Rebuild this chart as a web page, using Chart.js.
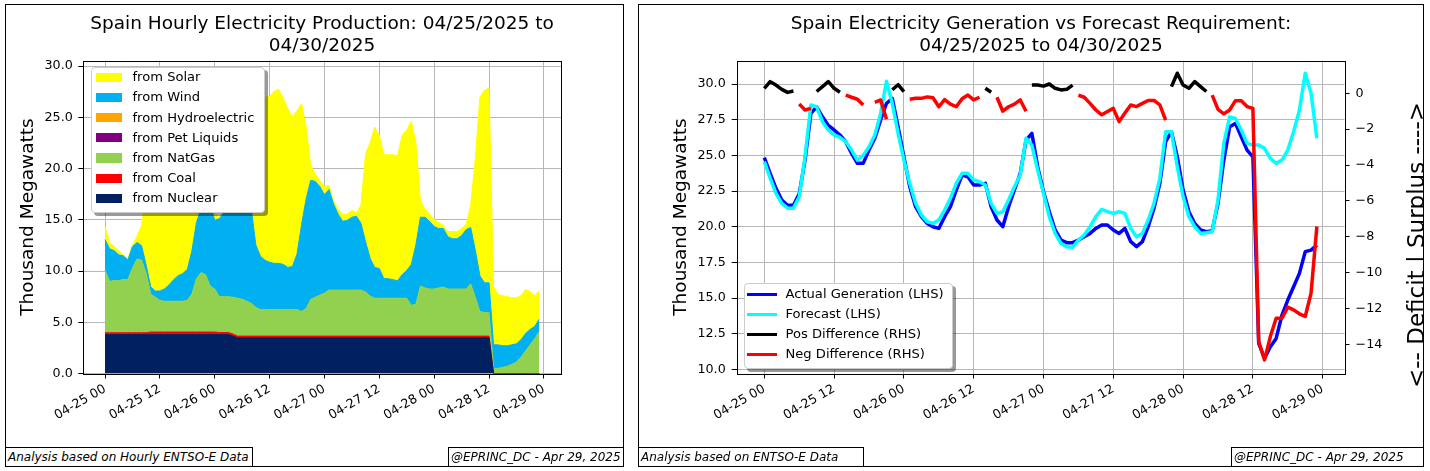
<!DOCTYPE html>
<html>
<head>
<meta charset="utf-8">
<script src="https://cdn.jsdelivr.net/npm/chart.js@4.4.1/dist/chart.umd.min.js"></script>
<style>
body { margin: 0; background: #fff; font-family: 'DejaVu Sans', sans-serif; color: #000; }
#page { position: relative; width: 1430px; height: 471px; overflow: hidden; background: #fff; }
canvas { position: absolute; top: 0; }
.panel { position: absolute; top: 4px; height: 463px; border: 1px solid #000; box-sizing: border-box; }
.title { position: absolute; top: 12px; width: 640px; text-align: center; font-size: 18.5px; line-height: 21.7px; white-space: nowrap; }
.note { position: absolute; top: 447px; height: 20px; border: 1px solid #000; box-sizing: border-box; background: #fff;
        font-style: italic; font-size: 12px; line-height: 18px; padding-left: 2px; white-space: nowrap; }
.legend { position: absolute; background: #fff; border: 1px solid #ccc; border-radius: 4px; box-sizing: border-box;
          box-shadow: 3px 3px 0 rgba(0,0,0,0.4); font-size: 13.1px; }
.legend .key { position: absolute; }
.legend .txt { position: absolute; line-height: 16px; white-space: nowrap; }
#rhsClip { position: absolute; left: 1340px; top: 0; width: 83px; height: 471px; overflow: hidden; }
#rhsLabel { position: absolute; left: -124px; top: 231px; width: 400px; height: 28px; line-height: 28px; font-size: 23px;
            text-align: center; white-space: nowrap; transform: rotate(-90deg); }
</style>
</head>
<body>
<div id="page">
  <canvas id="prodChart" width="630" height="471" style="left:0px;width:630px;height:471px"></canvas>
  <canvas id="fcstChart" width="800" height="471" style="left:630px;width:800px;height:471px"></canvas>

  <div class="title" style="left:2px">Spain Hourly Electricity Production: 04/25/2025 to<br>04/30/2025</div>
  <div class="title" style="left:721px">Spain Electricity Generation vs Forecast Requirement:<br>04/25/2025 to 04/30/2025</div>

  <div id="prodLegend" class="legend" style="left:91px;top:67px;width:174px;height:146px"></div>
  <div id="fcstLegend" class="legend" style="left:744px;top:283px;width:209px;height:86px"></div>

  <div id="rhsClip"><div id="rhsLabel">&lt;-- Deficit | Surplus ----&gt;</div></div>

  <div class="panel" style="left:5px;width:619px"></div>
  <div class="panel" style="left:638px;width:786px"></div>

  <div class="note" style="left:5px;width:248px">Analysis based on Hourly ENTSO-E Data</div>
  <div class="note" style="left:448px;width:176px">@EPRINC_DC - Apr 29, 2025</div>
  <div class="note" style="left:638px;width:226px">Analysis based on ENTSO-E Data</div>
  <div class="note" style="left:1231px;width:193px">@EPRINC_DC - Apr 29, 2025</div>
</div>

<script>
// hours since 04-25 00:00
var hours = [];
for (var h = 0; h < 96; h++) { hours.push(h); }

var tickHours = [0, 12, 24, 36, 48, 60, 72, 84, 96];
var tickLabels = ['04-25 00', '04-25 12', '04-26 00', '04-26 12', '04-27 00',
                  '04-27 12', '04-28 00', '04-28 12', '04-29 00'];

// ---- production by source, thousand MW (left chart) ----
var nuclear = [
    3.8, 3.8, 3.8, 3.8, 3.8, 3.8, 3.8, 3.8, 3.8, 3.8, 3.8, 3.8, 3.8, 3.8, 3.8, 3.8,
    3.8, 3.8, 3.8, 3.8, 3.8, 3.8, 3.8, 3.8, 3.8, 3.8, 3.8, 3.8, 3.65, 3.5, 3.5, 3.5,
    3.5, 3.5, 3.5, 3.5, 3.5, 3.5, 3.5, 3.5, 3.5, 3.5, 3.5, 3.5, 3.5, 3.5, 3.5, 3.5,
    3.5, 3.5, 3.5, 3.5, 3.5, 3.5, 3.5, 3.5, 3.5, 3.5, 3.5, 3.5, 3.5, 3.5, 3.5, 3.5,
    3.5, 3.5, 3.5, 3.5, 3.5, 3.5, 3.5, 3.5, 3.5, 3.5, 3.5, 3.5, 3.5, 3.5, 3.5, 3.5,
    3.5, 3.5, 3.5, 3.5, 3.5, 0, 0, 0, 0, 0, 0, 0, 0, 0, 0, 0];
var coal = [
    0.18, 0.18, 0.18, 0.18, 0.18, 0.18, 0.18, 0.18, 0.18, 0.18, 0.25, 0.25, 0.25, 0.25, 0.25, 0.25,
    0.25, 0.25, 0.25, 0.25, 0.25, 0.25, 0.25, 0.25, 0.25, 0.2, 0.2, 0.2, 0.2, 0.15, 0.15, 0.15,
    0.15, 0.15, 0.15, 0.15, 0.15, 0.15, 0.15, 0.15, 0.15, 0.15, 0.15, 0.15, 0.15, 0.15, 0.15, 0.15,
    0.15, 0.15, 0.15, 0.15, 0.15, 0.15, 0.15, 0.15, 0.15, 0.15, 0.15, 0.15, 0.15, 0.15, 0.15, 0.15,
    0.15, 0.15, 0.15, 0.15, 0.15, 0.15, 0.15, 0.15, 0.15, 0.15, 0.15, 0.15, 0.15, 0.15, 0.15, 0.15,
    0.15, 0.15, 0.15, 0.15, 0.15, 0, 0, 0, 0, 0, 0, 0, 0, 0, 0, 0];
var natGas = [
    6.1, 5.0, 5.1, 5.1, 5.2, 5.2, 6.3, 7.2, 7.1, 5.8, 3.7, 3.4, 3.1, 3.0, 3.0, 3.0,
    3.0, 3.0, 3.1, 3.7, 5.2, 5.8, 5.6, 4.5, 4.2, 3.5, 3.5, 3.5, 3.6, 3.7, 3.6, 3.4,
    3.2, 2.8, 2.6, 2.6, 2.6, 2.6, 2.6, 2.6, 2.6, 2.6, 2.6, 2.4, 2.7, 3.6, 3.8, 4.0,
    4.2, 4.5, 4.5, 4.5, 4.5, 4.5, 4.5, 4.5, 4.5, 4.3, 3.9, 3.7, 3.7, 3.7, 3.7, 3.7,
    3.7, 3.7, 3.7, 3.0, 3.1, 4.9, 4.7, 4.6, 4.6, 4.7, 4.8, 4.6, 4.6, 4.6, 4.6, 4.6,
    5.1, 3.8, 2.4, 2.3, 2.3, 0.5, 0.5, 0.6, 0.7, 0.9, 1.1, 1.6, 2.2, 2.8, 3.4, 4.1];
var petLiquids = [
    0, 0, 0, 0, 0, 0, 0, 0, 0, 0, 0, 0, 0, 0, 0, 0, 0, 0, 0, 0, 0, 0, 0, 0,
    0, 0, 0, 0, 0, 0, 0, 0, 0, 0, 0, 0, 0, 0, 0, 0, 0, 0, 0, 0, 0, 0, 0, 0,
    0, 0, 0, 0, 0, 0, 0, 0, 0, 0, 0, 0, 0, 0, 0, 0, 0, 0, 0, 0, 0, 0, 0, 0,
    0, 0, 0, 0, 0, 0, 0, 0, 0, 0, 0, 0, 0, 0, 0, 0, 0, 0, 0, 0, 0, 0, 0, 0];
var hydro = [
    0, 0, 0, 0, 0, 0, 0, 0, 0, 0, 0, 0, 0, 0, 0, 0, 0, 0, 0, 0, 0, 0, 0, 0,
    0, 0, 0, 0, 0, 0, 0, 0, 0, 0, 0, 0, 0, 0, 0, 0, 0, 0, 0, 0, 0, 0, 0, 0,
    0, 0, 0, 0, 0, 0, 0, 0, 0, 0, 0, 0, 0, 0, 0, 0, 0, 0, 0, 0, 0, 0, 0, 0,
    0, 0, 0, 0, 0, 0, 0, 0, 0, 0, 0, 0, 0, 0, 0, 0, 0, 0, 0, 0, 0, 0, 0, 0];
var wind = [
    3.0, 3.2, 2.9, 2.5, 2.3, 1.9, 2.1, 1.6, 1.4, 0.8, 0.7, 0.6, 0.9, 1.2, 1.6, 2.1,
    2.5, 2.7, 3.0, 4.2, 5.5, 6.2, 6.9, 7.9, 6.7, 7.6, 8.2, 8.3, 8.4, 8.5, 8.7, 9.0,
    9.2, 6.1, 5.2, 4.8, 4.6, 4.5, 4.5, 4.4, 4.1, 4.2, 5.4, 8.5, 10.7, 11.6, 11.3, 10.6,
    9.6, 9.8, 8.4, 7.4, 6.7, 6.8, 7.1, 7.2, 6.5, 4.9, 3.7, 3.0, 2.9, 1.9, 1.9, 1.8,
    1.7, 2.3, 2.7, 4.0, 5.8, 6.7, 6.9, 6.6, 6.1, 5.8, 5.7, 5.1, 4.9, 4.9, 5.2, 5.8,
    5.5, 4.6, 3.5, 2.9, 2.9, 2.3, 2.3, 2.1, 2.0, 1.9, 1.8, 1.7, 1.7, 1.5, 1.2, 1.2];
var solar = [
    1.3, 0.6, 0.4, 0.4, 0.1, 0.1, 0.2, 0.6, 2.0, 7.4, 13.1, 16.0, 17.5, 18.3, 18.6, 18.4,
    17.7, 16.6, 14.4, 9.6, 3.8, 1.2, 0.8, 0.6, 0.6, 0.2, 0.2, 0.2, 0.3, 0.4, 0.5, 1.5,
    4.0, 10.5, 14.1, 15.9, 16.2, 16.8, 17.0, 16.2, 15.5, 14.6, 14.0, 11.8, 7.0, 1.5, 0.7, 0.6,
    0.8, 0.4, 0.3, 0.5, 0.7, 0.6, 0.7, 0.3, 1.8, 8.6, 11.3, 13.7, 13.0, 12.1, 12.1, 12.2,
    12.2, 13.6, 13.7, 14.0, 10.0, 1.6, 0.8, 0.7, 0.7, 0.6, 0.3, 0.5, 0.7, 0.7, 0.7, 0.5,
    2.2, 8.9, 17.4, 18.8, 19.0, 5.7, 4.9, 4.9, 4.8, 4.6, 4.5, 4.3, 4.3, 3.7, 3.0, 2.8];

// ---- generation vs forecast (right chart) ----
var actualGen = [
    24.84, 23.74, 22.69, 21.87, 21.5, 21.5, 22.3, 24.67, 27.94, 28.4, 27.7, 27.1, 26.78, 26.43, 25.96, 25.14,
    24.44, 24.44, 25.37, 26.2, 27.48, 28.64, 29.0, 27.0, 24.9, 22.8, 21.4, 20.7, 20.23, 20.0, 19.88, 20.7,
    21.4, 22.57, 23.62, 23.5, 22.92, 22.92, 23.04, 21.4, 20.47, 20.0, 21.4, 22.57, 23.74, 26.07, 26.54, 24.2,
    22.45, 21.05, 19.77, 19.07, 18.88, 18.88, 19.07, 19.3, 19.53, 19.88, 20.12, 20.12, 19.77, 19.53, 19.88, 18.95,
    18.6, 18.95, 20.0, 21.29, 23.04, 25.96, 26.66, 24.9, 22.57, 21.05, 20.23, 19.77, 19.65, 19.72, 21.64, 24.67,
    27.0, 27.24, 26.3, 25.37, 24.9, 11.82, 10.77, 11.59, 12.17, 13.81, 14.86, 15.79, 16.73, 18.25, 18.36, 18.71];
var forecast = [
    24.56, 23.4, 22.34, 21.64, 21.3, 21.3, 22.1, 24.9, 28.53, 28.4, 27.36, 26.78, 26.43, 26.26, 25.96, 25.37,
    24.67, 25.0, 25.6, 26.43, 27.94, 30.2, 28.64, 26.54, 24.67, 23.04, 21.64, 20.82, 20.35, 20.23, 20.47, 21.17,
    21.99, 23.04, 23.74, 23.74, 23.27, 23.15, 22.92, 21.64, 20.93, 21.05, 21.87, 22.8, 23.62, 26.2, 25.72, 23.97,
    22.34, 20.7, 19.53, 18.83, 18.6, 18.55, 19.07, 19.42, 20.0, 20.7, 21.21, 21.05, 20.93, 21.05, 20.93, 19.88,
    19.3, 19.53, 20.47, 21.64, 23.39, 26.66, 26.66, 24.2, 22.1, 20.7, 20.0, 19.53, 19.58, 19.65, 21.87, 25.84,
    27.7, 27.59, 26.78, 25.84, 25.72, 25.72, 25.49, 24.79, 24.44, 24.67, 25.37, 26.66, 28.18, 30.75, 29.35, 26.2];
var posDiff = [
    0.28, 0.65, 0.46, 0.22, 0.05, 0.13, null, null, null, 0.1, 0.37, 0.65, 0.28, 0.06, null, null,
    null, null, 0.1, null, null, null, 0.2, 0.48, 0.1, null, null, null, null, null, null, null,
    null, null, null, null, null, null, 0.28, 0.06, null, null, null, null, null, null, 0.46, 0.46,
    0.4, 0.52, 0.28, 0.19, 0.22, 0.46, null, null, null, null, null, null, null, null, null, null,
    null, null, null, null, null, null, 0.37, 1.12, 0.46, 0.28, 0.65, 0.37, 0.1, null, null, null,
    null, null, null, null, null, null, null, null, null, null, null, null, null, null, null, null];
var negDiff = [
    null, null, null, null, null, null, -0.6, -0.93, -0.84, null, null, null, null, null, -0.1, -0.22,
    -0.33, -0.65, null, -0.5, -0.37, -1.45, null, null, null, -0.33, -0.28, -0.28, -0.2, -0.25, -0.75, -0.35,
    -0.6, -0.75, -0.3, -0.1, -0.37, -0.22, null, null, -0.22, -1.0, -0.75, -0.6, -0.37, -1.0, null, null,
    null, null, null, null, null, null, -0.1, -0.22, -0.56, -0.93, -1.2, -1.02, -0.84, -1.58, -1.1, -0.65,
    -0.74, -0.56, -0.4, -0.4, -0.65, -1.49, null, null, null, null, null, null, null, -0.1, -0.9, -1.15,
    -0.93, -0.41, -0.41, -0.74, -0.84, -13.85, -14.87, -13.57, -12.55, -12.55, -11.93, -12.08, -12.3, -12.45, -11.15, -7.43];

var prodTicks = [0, 5, 10, 15, 20, 25, 30];
var genTicks = [10, 12.5, 15, 17.5, 20, 22.5, 25, 27.5, 30];
var diffTicks = [-14, -12, -10, -8, -6, -4, -2, 0];

var gridColor = '#b7b7b7';

Chart.defaults.font.family = "'DejaVu Sans', sans-serif";
Chart.defaults.color = '#000';
Chart.defaults.animation = false;

function points(values) {
    return hours.map(function (h, i) { return {x: h, y: values[i]}; });
}

function fixedTicks(values) {
    return function (axis) {
        axis.ticks = values.map(function (v) { return {value: v}; });
    };
}

// black box round the plot area, like the matplotlib spines
var framePlugin = {
    id: 'frame',
    afterDraw: function (chart) {
        var a = chart.chartArea;
        var ctx = chart.ctx;
        ctx.save();
        ctx.strokeStyle = '#000';
        ctx.lineWidth = 1;
        ctx.strokeRect(Math.round(a.left) + 0.5, Math.round(a.top) + 0.5,
                       Math.round(a.right - a.left), Math.round(a.bottom - a.top));
        ctx.restore();
    }
};

function timeAxis(z) {
    return {
        type: 'linear', min: -4.75, max: 99.75, z: z,
        afterBuildTicks: fixedTicks(tickHours),
        afterFit: function (axis) { axis.height = 97.5; },
        grid: {color: gridColor, lineWidth: 1, tickLength: 5, tickColor: '#000'},
        border: {display: false},
        ticks: {
            autoSkip: false, minRotation: 30, maxRotation: 30, padding: 3,
            font: {size: 12.7},
            callback: function (value, index) { return tickLabels[index]; }
        }
    };
}

var axisTitleFont = {size: 18.5};

// ---------------- left: stacked production ----------------
var sources = [
    {label: 'from Nuclear', values: nuclear, color: '#002060'},
    {label: 'from Coal', values: coal, color: '#ff0000'},
    {label: 'from NatGas', values: natGas, color: '#92d050'},
    {label: 'from Pet Liquids', values: petLiquids, color: '#800080'},
    {label: 'from Hydroelectric', values: hydro, color: '#ffa500'},
    {label: 'from Wind', values: wind, color: '#00b0f0'},
    {label: 'from Solar', values: solar, color: '#ffff00'}
];

var prodChart = new Chart(document.getElementById('prodChart'), {
    type: 'line',
    data: {
        datasets: sources.map(function (s, i) {
            var empty = Math.max.apply(null, s.values) === 0;
            return {
                label: s.label,
                data: points(s.values),
                backgroundColor: s.color,
                borderColor: s.color,
                borderWidth: empty ? 0 : 1,
                pointRadius: 0,
                tension: 0,
                fill: i === 0 ? 'origin' : '-1'
            };
        })
    },
    options: {
        responsive: false,
        layout: {padding: {left: 10, right: 69, top: 60.5, bottom: 0}},
        plugins: {legend: {display: false}, tooltip: {enabled: false}},
        scales: {
            x: timeAxis(1),
            y: {
                type: 'linear', stacked: true, min: 0, max: 30.55, z: 1,
                afterBuildTicks: fixedTicks(prodTicks),
                afterFit: function (axis) { axis.width = 73.3; },
                grid: {color: gridColor, lineWidth: 1, tickLength: 5, tickColor: '#000'},
                border: {display: false},
                ticks: {padding: 5.5, font: {size: 12.7},
                        callback: function (v) { return v.toFixed(1); }},
                title: {display: true, text: 'Thousand Megawatts', font: axisTitleFont,
                        padding: {top: 7, bottom: 0}}
            }
        }
    },
    plugins: [framePlugin]
});

// ---------------- right: generation vs forecast ----------------
var lines = [
    {label: 'Actual Generation (LHS)', values: actualGen, color: '#0000ff', axis: 'y', order: 3},
    {label: 'Forecast (LHS)', values: forecast, color: '#00ffff', axis: 'y', order: 2},
    {label: 'Pos Difference (RHS)', values: posDiff, color: '#000000', axis: 'y2', order: 1},
    {label: 'Neg Difference (RHS)', values: negDiff, color: '#ff0000', axis: 'y2', order: 0}
];

var fcstChart = new Chart(document.getElementById('fcstChart'), {
    type: 'line',
    data: {
        datasets: lines.map(function (s) {
            return {
                label: s.label,
                data: points(s.values),
                yAxisID: s.axis,
                order: s.order,
                borderColor: s.color,
                backgroundColor: s.color,
                borderWidth: 3.5,
                borderJoinStyle: 'round',
                pointRadius: 0,
                tension: 0,
                spanGaps: false,
                fill: false
            };
        })
    },
    options: {
        responsive: false,
        layout: {padding: {left: 40, right: 35.5, top: 60.5, bottom: 0}},
        plugins: {legend: {display: false}, tooltip: {enabled: false}},
        scales: {
            x: timeAxis(0),
            y: {
                type: 'linear', position: 'left', min: 9.71, max: 31.65,
                afterBuildTicks: fixedTicks(genTicks),
                afterFit: function (axis) { axis.width = 66.7; },
                grid: {color: gridColor, lineWidth: 1, tickLength: 5, tickColor: '#000'},
                border: {display: false},
                ticks: {padding: 6, font: {size: 12.7},
                        callback: function (v) { return v.toFixed(1); }},
                title: {display: true, text: 'Thousand Megawatts', font: axisTitleFont,
                        padding: {top: 0, bottom: 0}}
            },
            y2: {
                type: 'linear', position: 'right', min: -15.63, max: 1.83,
                afterBuildTicks: fixedTicks(diffTicks),
                afterFit: function (axis) { axis.width = 50; },
                grid: {drawOnChartArea: false, color: '#000', tickLength: 5, tickColor: '#000'},
                border: {display: false},
                ticks: {padding: 6, font: {size: 12.7},
                        callback: function (v) { return String(v).replace('-', '\u2212'); }}
            }
        }
    },
    plugins: [framePlugin]
});

// ---------------- legends (matplotlib style boxes) ----------------
function buildLegend(id, items, opt) {
    var box = document.getElementById(id);
    items.forEach(function (it, i) {
        var y = opt.firstRow + i * opt.rowStep;
        var key = document.createElement('div');
        key.className = 'key';
        key.style.left = opt.keyLeft + 'px';
        key.style.width = opt.keyWidth + 'px';
        key.style.height = opt.keyHeight + 'px';
        key.style.top = (y - opt.keyHeight / 2) + 'px';
        key.style.background = it.color;
        box.appendChild(key);
        var txt = document.createElement('div');
        txt.className = 'txt';
        txt.style.left = opt.textLeft + 'px';
        txt.style.top = (y - 8) + 'px';
        txt.textContent = it.label;
        box.appendChild(txt);
    });
}

buildLegend('prodLegend', sources.slice().reverse(), {
    firstRow: 9.3, rowStep: 20.17, keyLeft: 4, keyWidth: 25.6, keyHeight: 9.3, textLeft: 40.5
});
buildLegend('fcstLegend', lines, {
    firstRow: 10.3, rowStep: 20, keyLeft: 1.5, keyWidth: 30, keyHeight: 3.5, textLeft: 40.5
});
</script>
</body>
</html>
